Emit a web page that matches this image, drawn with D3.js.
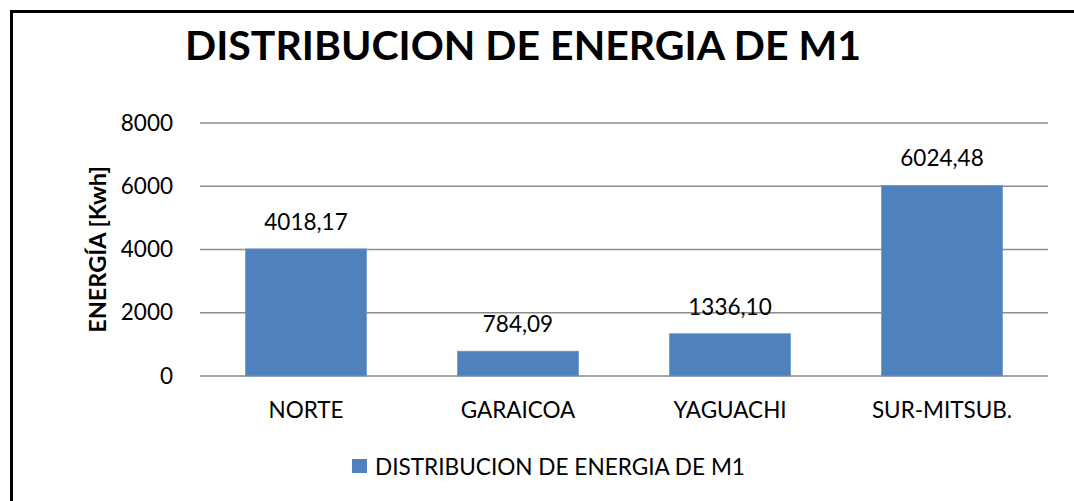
<!DOCTYPE html>
<html>
<head>
<meta charset="utf-8">
<script src="https://cdn.jsdelivr.net/npm/d3@7"></script>
<style>
	body { margin: 0; background: #fff; }
	text { font-family: Lato, "Open Sans", sans-serif; fill: #000; }
</style>
</head>
<body>
<script>
var categories = ["NORTE", "GARAICOA", "YAGUACHI", "SUR-MITSUB."];
var values = [4018.17, 784.09, 1336.10, 6024.48];
var valueLabels = ["4018,17", "784,09", "1336,10", "6024,48"];
var yTicks = [0, 2000, 4000, 6000, 8000];
var seriesName = "DISTRIBUCION DE ENERGIA DE M1";

var W = 1074, H = 501;
var margin = { top: 123, right: 26, bottom: 125, left: 200 };
var width = W - margin.left - margin.right, height = H - margin.top - margin.bottom;

var svg = d3.select("body").append("svg")
	.attr("width", W)
	.attr("height", H);

svg.append("rect")
	.attr("width", W).attr("height", H)
	.attr("fill", "#fff");

// outer frame, cut off on the right and bottom
svg.append("rect")
	.attr("x", 11.5).attr("y", 11.5)
	.attr("width", W + 50).attr("height", H + 50)
	.attr("fill", "none")
	.attr("stroke", "#000")
	.attr("stroke-width", 3);

var g = svg.append("g")
	.attr("transform", "translate(" + margin.left + "," + margin.top + ")");

var x = d3.scaleBand()
	.domain(categories)
	.range([0, width])
	.paddingInner(0.43)
	.paddingOuter(0.215);

var y = d3.scaleLinear()
	.domain([0, 8000])
	.range([height, 0]);

// grid lines
g.append("g").selectAll("line")
	.data(yTicks)
	.enter().append("line")
	.attr("x1", 0).attr("x2", width)
	.attr("y1", d => y(d)).attr("y2", d => y(d))
	.attr("stroke", "#8c8c8c")
	.attr("stroke-width", 1.3);

var yAxis = d3.axisLeft(y)
	.tickValues(yTicks)
	.tickFormat(d3.format("d"))
	.tickSize(0)
	.tickPadding(27);

g.append("g")
	.call(yAxis)
	.call(a => a.select(".domain").remove())
	.selectAll("text")
	.style("font-family", "Lato, sans-serif")
	.style("font-size", "22.5px")
	.attr("fill", "#000");

// bars
g.append("g").selectAll("rect")
	.data(values)
	.enter().append("rect")
	.attr("x", (d, i) => x(categories[i]))
	.attr("y", d => y(d))
	.attr("width", x.bandwidth())
	.attr("height", d => height - y(d))
	.attr("fill", "#4f81bd")
	.attr("stroke", "#6e97c8")
	.attr("stroke-width", 0.8);

// value labels
g.append("g").selectAll("text")
	.data(values)
	.enter().append("text")
	.attr("x", (d, i) => x(categories[i]) + x.bandwidth() / 2)
	.attr("y", d => y(d) - 19)
	.attr("text-anchor", "middle")
	.style("font-size", "22.5px")
	.text((d, i) => valueLabels[i]);

var xAxis = d3.axisBottom(x)
	.tickSize(0)
	.tickPadding(26);

g.append("g")
	.attr("transform", "translate(0," + height + ")")
	.call(xAxis)
	.call(a => a.select(".domain").remove())
	.selectAll("text")
	.style("font-family", "Lato, sans-serif")
	.style("font-size", "22.5px")
	.attr("fill", "#000");

// y label
svg.append("text")
	.attr("transform", "translate(106," + (margin.top + height / 2) + ") rotate(-90)")
	.attr("text-anchor", "middle")
	.style("font-size", "23.5px")
	.style("font-weight", "bold")
	.text("ENERGÍA [Kwh]");

// title
svg.append("text")
	.attr("x", 523)
	.attr("y", 60)
	.attr("text-anchor", "middle")
	.style("font-size", "41px")
	.style("font-weight", "bold")
	.text(seriesName);

// legend
var legend = svg.append("g")
	.attr("transform", "translate(352,459)");
legend.append("rect")
	.attr("width", 15).attr("height", 14)
	.attr("fill", "#4f81bd");
legend.append("text")
	.attr("x", 23)
	.attr("y", 15.5)
	.style("font-size", "22.6px")
	.text(seriesName);
</script>
</body>
</html>
